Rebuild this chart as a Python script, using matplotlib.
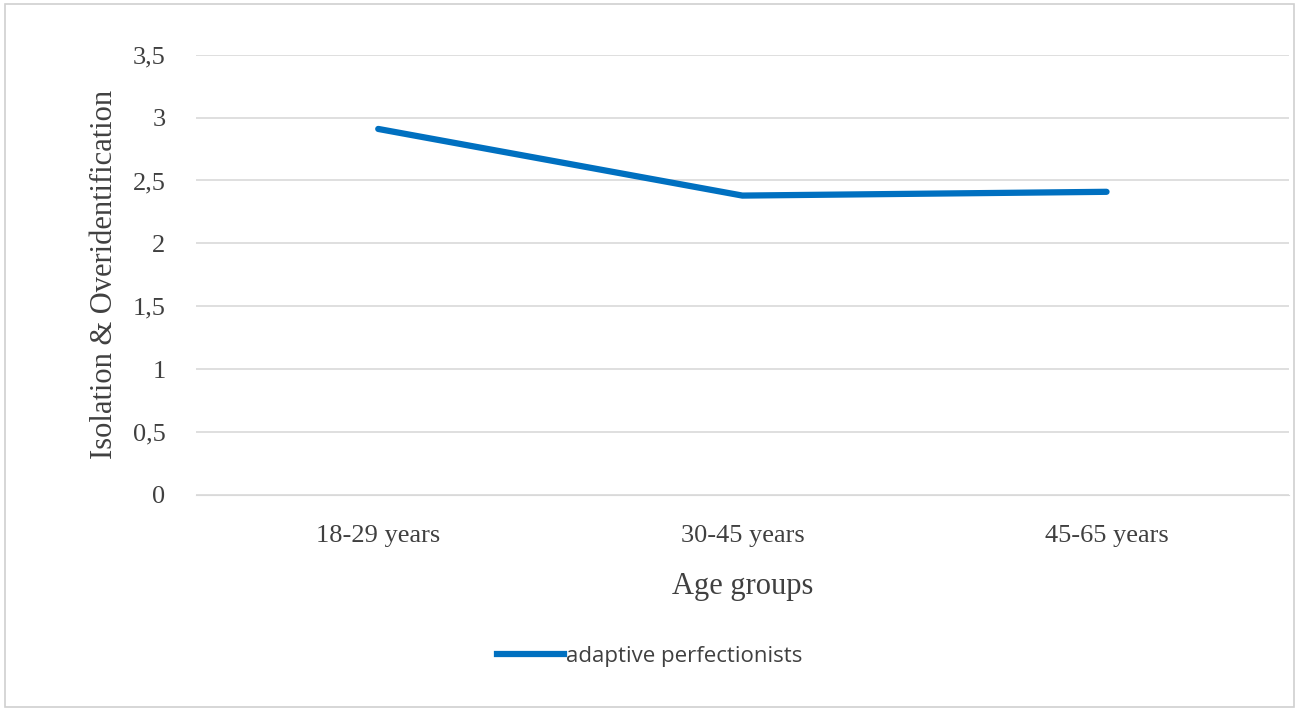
import matplotlib
matplotlib.use("Agg")
import matplotlib.pyplot as plt
from matplotlib.patches import Rectangle
from matplotlib.lines import Line2D

groups = ["18-29 years", "30-45 years", "45-65 years"]
adaptive = [2.91, 2.38, 2.41]
yticks = [0, 0.5, 1, 1.5, 2, 2.5, 3, 3.5]
ylabels = ["0", "0,5", "1", "1,5", "2", "2,5", "3", "3,5"]

fig = plt.figure(figsize=(12.99, 7.11), dpi=100)
fig.patches.append(Rectangle((0.004, 0.006), 0.992, 0.988, transform=fig.transFigure,
                             fill=False, ec="#d0d0d0", lw=1.2))
ax = fig.add_axes([0.151, 0.304, 0.841, 0.619])
x = range(len(groups))
ax.plot(x, adaptive, color="#0070C0", lw=4.5, solid_capstyle="round")
ax.set_xlim(-0.5, len(groups) - 0.5)
ax.set_ylim(0, 3.5)
ax.set_yticks(yticks)
ax.set_yticklabels(ylabels)
ax.set_xticks(list(x))
ax.set_xticklabels(groups)
ax.grid(axis="y", color="#d9d9d9", lw=1.2)
ax.set_axisbelow(True)
for s in ["top", "right", "left"]:
    ax.spines[s].set_visible(False)
ax.spines["bottom"].set_color("#d9d9d9")
ax.tick_params(length=0, labelsize=19, colors="#404040")
ax.tick_params(axis="x", pad=22)
ax.tick_params(axis="y", pad=22)
for t in ax.get_xticklabels() + ax.get_yticklabels():
    t.set_family("Liberation Serif")
ax.set_xlabel("Age groups", family="Liberation Serif", fontsize=22, color="#404040", labelpad=18)
ax.set_ylabel("Isolation & Overidentification", family="Liberation Serif", fontsize=22,
              color="#404040", labelpad=10)
h = Line2D([], [], color="#0070C0", lw=4.5)
fig.legend([h], ["adaptive perfectionists"], loc="center", bbox_to_anchor=(0.5, 0.077),
           frameon=False, prop={"family": "Open Sans", "size": 16}, handlelength=3.0,
           handletextpad=0.1, labelcolor="#404040")
fig.savefig("out.png", dpi=100)
